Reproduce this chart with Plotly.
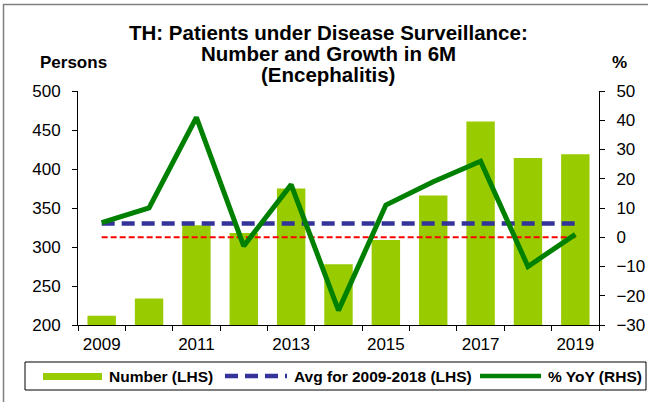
import plotly.graph_objects as go

years = [2009, 2010, 2011, 2012, 2013, 2014, 2015, 2016, 2017, 2018, 2019]
number = [212, 234, 328, 318, 375, 278, 309, 366, 461, 414, 419]
avg_2009_2018 = [330, 330, 330, 330, 330, 330, 330, 330, 330, 330, 330]
yoy = [5, 10, 41, -3, 18, -25, 11, 19, 26, -10, 1]
zero_line = [0, 0, 0, 0, 0, 0, 0, 0, 0, 0, 0]
x_tick_labels = ["2009", "2011", "2013", "2015", "2017", "2019"]
x_tick_vals = [2009, 2011, 2013, 2015, 2017, 2019]
legend_labels = ["Number (LHS)", "Avg for 2009-2018 (LHS)", "% YoY (RHS)"]

title_lines = ["TH: Patients under Disease Surveillance:",
               "Number and Growth in 6M",
               "(Encephalitis)"]

W, H = 648, 402
L, R, T, B = 78, 49, 91, 77
PW, PH = W - L - R, H - T - B

def px_x(p):
    return (p - L) / PW

def px_y(p):
    return (H - B - p) / PH

FONT = "Liberation Sans, Arial, sans-serif"
GREEN_BAR = "#99CC00"
GREEN_LINE = "#008000"
BLUE = "#333399"
RED = "#FF0000"
BLUE_DASH = "13px,7px"

fig = go.Figure()

fig.add_trace(go.Bar(x=years, y=number, marker=dict(color=GREEN_BAR, line=dict(width=0)),
                     width=0.6, showlegend=False, name=legend_labels[0], yaxis="y"))
fig.add_trace(go.Scatter(x=years, y=avg_2009_2018, mode="lines", name=legend_labels[1],
                         showlegend=False,
                         line=dict(color=BLUE, width=4.5, dash=BLUE_DASH), yaxis="y"))
fig.add_trace(go.Scatter(x=years, y=zero_line, mode="lines", showlegend=False,
                         line=dict(color=RED, width=2, dash="6px,3px"), yaxis="y2"))
fig.add_trace(go.Scatter(x=years, y=yoy, mode="lines", name=legend_labels[2],
                         showlegend=False,
                         line=dict(color=GREEN_LINE, width=5), yaxis="y2"))

axis_font = dict(family=FONT, size=17, color="black")

fig.update_layout(
    width=W, height=H,
    margin=dict(l=L, r=R, t=T, b=B, pad=0, autoexpand=False),
    paper_bgcolor="white", plot_bgcolor="white",
    font=dict(family=FONT, color="black"),
    showlegend=False,
    xaxis=dict(range=[2008.5, 2019.5], tickvals=x_tick_vals, ticktext=x_tick_labels,
               ticks="", showgrid=False, zeroline=False, showline=True, linecolor="black",
               linewidth=1, tickfont=axis_font, ticklabelstandoff=4,
               minor=dict(tick0=2008.5, dtick=1, ticks="outside", ticklen=5,
                          tickcolor="black", showgrid=False)),
    yaxis=dict(range=[200, 500], dtick=50, ticks="outside", ticklen=5, tickcolor="black",
               showgrid=False, zeroline=False, showline=True, linecolor="black", linewidth=1,
               tickfont=axis_font, ticklabelstandoff=8),
    yaxis2=dict(range=[-30, 50], dtick=10, overlaying="y", side="right", ticks="outside",
                ticklen=5, tickcolor="black", showgrid=False, zeroline=False, showline=True,
                linecolor="black", linewidth=1, tickfont=axis_font, ticklabelstandoff=8),
)

# title as three separately positioned lines
for txt, yc in zip(title_lines, [32, 54, 74]):
    fig.add_annotation(text="<b>" + txt + "</b>", x=px_x(328), y=px_y(yc), xref="paper", yref="paper",
                       xanchor="center", yanchor="middle", showarrow=False,
                       font=dict(family=FONT, size=20.5, color="black"))

fig.add_annotation(text="<b>Persons</b>", x=px_x(73), y=px_y(62), xref="paper", yref="paper",
                   xanchor="center", yanchor="middle", showarrow=False,
                   font=dict(family=FONT, size=17, color="black"))
fig.add_annotation(text="<b>%</b>", x=px_x(619), y=px_y(62), xref="paper", yref="paper",
                   xanchor="center", yanchor="middle", showarrow=False,
                   font=dict(family=FONT, size=17, color="black"))

# outer frame (left and top visible, right/bottom cropped)
fig.add_shape(type="rect", xref="paper", yref="paper",
              x0=px_x(3.5), x1=px_x(700), y0=px_y(4.5), y1=px_y(450),
              line=dict(color="#7F7F7F", width=1.5), fillcolor="rgba(0,0,0,0)", layer="below")

# legend box with swatches and labels
LEG_Y = 376
fig.add_shape(type="rect", xref="paper", yref="paper",
              x0=px_x(25), x1=px_x(646), y0=px_y(362), y1=px_y(390),
              line=dict(color="black", width=1), fillcolor="white", layer="above")
fig.add_shape(type="rect", xref="paper", yref="paper",
              x0=px_x(43), x1=px_x(102), y0=px_y(373), y1=px_y(380),
              line=dict(width=0), fillcolor=GREEN_BAR, layer="above")
fig.add_shape(type="line", xref="paper", yref="paper",
              x0=px_x(225), x1=px_x(287), y0=px_y(LEG_Y), y1=px_y(LEG_Y),
              line=dict(color=BLUE, width=4.5, dash=BLUE_DASH), layer="above")
fig.add_shape(type="line", xref="paper", yref="paper",
              x0=px_x(480), x1=px_x(541), y0=px_y(LEG_Y), y1=px_y(LEG_Y),
              line=dict(color=GREEN_LINE, width=4.5), layer="above")
for txt, xl in zip(legend_labels, [107, 292, 546]):
    fig.add_annotation(text="<b>" + txt + "</b>", x=px_x(xl), y=px_y(LEG_Y), xref="paper",
                       yref="paper", xanchor="left", yanchor="middle", showarrow=False,
                       font=dict(family=FONT, size=15.5, color="black"))

fig.write_html("out.html", post_script="document.body.style.margin='0';",
               config={"displayModeBar": False})
